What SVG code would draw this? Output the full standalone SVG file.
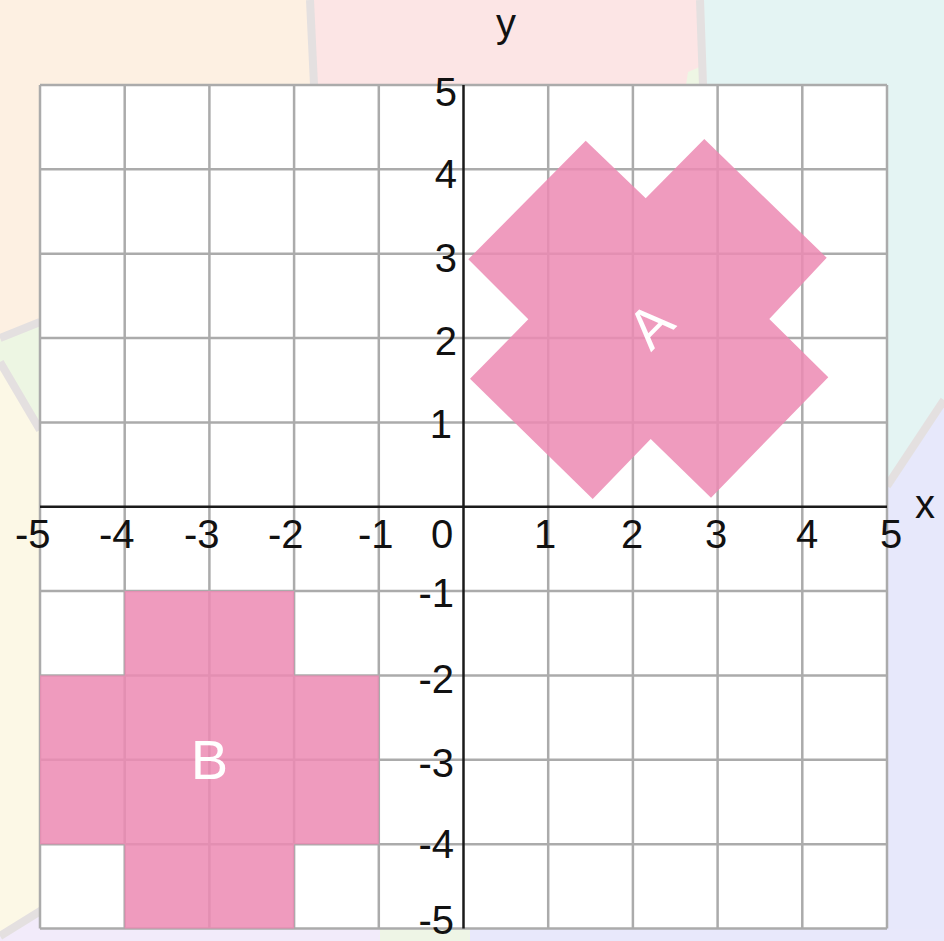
<svg xmlns="http://www.w3.org/2000/svg" width="944" height="941" viewBox="0 0 944 941">
  <style>
    .grid line { stroke: #ababab; stroke-width: 2.5; }
    .axis { stroke: #1a1a1a; stroke-width: 2.5; }
    .lbl { font-family: "Liberation Sans", Arial, sans-serif; font-size: 40px; fill: #111; }
    .shape { fill: #ec8ab3; fill-opacity: 0.85; }
    .name { font-family: "Liberation Sans", Arial, sans-serif; font-size: 56px; fill: #ffffff; text-anchor: middle; }
    .bgline { stroke: #e4e0e0; stroke-width: 8; fill: none; }
  </style>
  <g id="background">
    <rect x="0" y="0" width="944" height="941" fill="#fcf7e8"/>
    <polygon points="0,0 310,0 314,85 40,85 40,322 0,338" fill="#fdf0e2"/>
    <polygon points="312,0 700,0 702,85 314,85" fill="#fce5e5"/>
    <polygon points="702,0 944,0 944,402 887,486 887,85 704,85" fill="#e4f4f3"/>
    <polygon points="944,402 944,941 887,941 887,486" fill="#e7e8fb"/>
    <polygon points="0,340 40,322 40,430 0,362" fill="#edf6e3"/>
    <polygon points="0,362 40,430 40,929 0,929" fill="#fcf8e6"/>
    <polygon points="0,941 0,932 40,912 40,929 380,929 380,941" fill="#f2ebfa"/>
    <polygon points="380,929 470,929 470,941 380,941" fill="#eef5e6"/>
    <polygon points="470,929 944,929 944,941 470,941" fill="#e8e8fb"/>
    <polygon points="688,72 702,66 704,85 686,85" fill="#eef6e4"/>
    <line class="bgline" x1="310" y1="0" x2="314" y2="85"/>
    <line class="bgline" x1="700" y1="0" x2="703" y2="85" stroke-width="5"/>
    <line class="bgline" x1="944" y1="400" x2="887" y2="486"/>
    <line class="bgline" x1="0" y1="338" x2="40" y2="322"/>
    <line class="bgline" x1="0" y1="362" x2="40" y2="430"/>
    <line class="bgline" x1="0" y1="936" x2="42" y2="910"/>
  </g>
  <g id="plane">
    <rect x="40" y="85" width="847" height="843.5" fill="#ffffff"/>
    <g class="grid">
      <line x1="40" y1="85" x2="40" y2="928.5"/>
      <line x1="124.7" y1="85" x2="124.7" y2="928.5"/>
      <line x1="209.4" y1="85" x2="209.4" y2="928.5"/>
      <line x1="294.1" y1="85" x2="294.1" y2="928.5"/>
      <line x1="378.8" y1="85" x2="378.8" y2="928.5"/>
      <line x1="548.2" y1="85" x2="548.2" y2="928.5"/>
      <line x1="632.9" y1="85" x2="632.9" y2="928.5"/>
      <line x1="717.6" y1="85" x2="717.6" y2="928.5"/>
      <line x1="802.3" y1="85" x2="802.3" y2="928.5"/>
      <line x1="887" y1="85" x2="887" y2="928.5"/>
      <line x1="40" y1="85" x2="887" y2="85"/>
      <line x1="40" y1="169.35" x2="887" y2="169.35"/>
      <line x1="40" y1="253.7" x2="887" y2="253.7"/>
      <line x1="40" y1="338.05" x2="887" y2="338.05"/>
      <line x1="40" y1="422.4" x2="887" y2="422.4"/>
      <line x1="40" y1="591.1" x2="887" y2="591.1"/>
      <line x1="40" y1="675.45" x2="887" y2="675.45"/>
      <line x1="40" y1="759.8" x2="887" y2="759.8"/>
      <line x1="40" y1="844.15" x2="887" y2="844.15"/>
      <line x1="40" y1="928.5" x2="887" y2="928.5"/>
    </g>
    <line class="axis" x1="40" y1="506.75" x2="887" y2="506.75"/>
    <line class="axis" x1="463.5" y1="85" x2="463.5" y2="928.5"/>
  </g>
  <g id="shape-B">
    <polygon class="shape" points="124.7,591.1 294.1,591.1 294.1,675.45 378.8,675.45 378.8,844.15 294.1,844.15 294.1,928.5 124.7,928.5 124.7,844.15 40,844.15 40,675.45 124.7,675.45"/>
    <text class="name" x="209.4" y="779">B</text>
  </g>
  <g id="shape-A">
    <polygon class="shape" points="585.7,140.7 645.7,198.3 704.3,139 826.7,257.7 769.3,319 828.3,377.3 711,497.7 650.7,439 592.7,499 470,378.7 528.3,319.3 468.3,259.3"/>
    <text class="name" transform="translate(650,325) rotate(-45)" x="0" y="20">A</text>
  </g>
  <g id="x-labels" class="lbl">
    <text x="15" y="548">-5</text>
    <text x="99" y="548">-4</text>
    <text x="184" y="548">-3</text>
    <text x="268" y="548">-2</text>
    <text x="358" y="548">-1</text>
    <text x="442" y="548" text-anchor="middle">0</text>
    <text x="545" y="548" text-anchor="middle">1</text>
    <text x="632" y="548" text-anchor="middle">2</text>
    <text x="716" y="548" text-anchor="middle">3</text>
    <text x="807" y="548" text-anchor="middle">4</text>
    <text x="891" y="548" text-anchor="middle">5</text>
    <text x="925" y="518" text-anchor="middle">x</text>
  </g>
  <g id="axis-name-y" class="lbl">
    <text x="506" y="37" text-anchor="middle">y</text>
  </g>
  <g id="y-labels" class="lbl" text-anchor="end">
    <text x="457" y="106">5</text>
    <text x="457" y="188">4</text>
    <text x="457" y="272">3</text>
    <text x="457" y="355">2</text>
    <text x="452" y="438">1</text>
    <text x="454" y="607">-1</text>
    <text x="454" y="693">-2</text>
    <text x="454" y="777">-3</text>
    <text x="454" y="858">-4</text>
    <text x="454" y="934">-5</text>
  </g>
</svg>
